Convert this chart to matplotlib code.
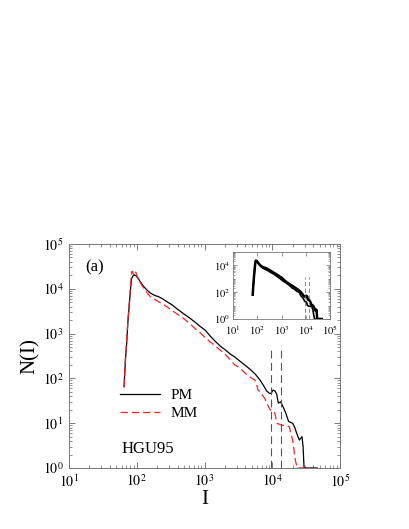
import matplotlib
matplotlib.use("Agg")
import matplotlib.pyplot as plt
import matplotlib.ticker as mticker
import numpy as np

plt.rcParams['font.family'] = ['Liberation Serif', 'DejaVu Serif']
plt.rcParams['mathtext.fontset'] = 'stix'

pm_x = [65, 68, 71, 74, 78, 81, 84, 88, 92, 98, 105, 112, 125, 141, 160, 175, 190, 208, 240, 277,
        330, 400, 487, 600, 725, 860, 1020, 1200, 1430, 1700, 2000, 2400, 2800, 3300, 4000, 4700,
        5600, 6600, 7400, 8300, 9000, 9600, 10300, 11000, 11600, 12300, 13300, 14500, 15800,
        17400, 18500, 20000, 21500, 22900, 25100, 27500, 28500, 29500, 46000]
pm_y = [65, 250, 600, 1800, 4800, 1.0e4, 1.7e4, 1.95e4, 2.05e4, 1.95e4, 1.7e4, 1.45e4, 1.15e4,
        9.4e3, 8.0e3, 7.4e3, 7.0e3, 6.7e3, 6.0e3, 5.2e3, 4.4e3, 3.5e3, 2.8e3, 2.25e3, 1.8e3,
        1.45e3, 1.2e3, 900, 680, 530, 440, 350, 300, 245, 195, 160, 125, 92, 70, 52, 47, 46, 55,
        52, 45, 28, 30, 23, 17, 11, 10.5, 10, 8, 6, 4.2, 5, 3, 1, 1]

mm_x = [65, 68, 71, 74, 78, 81, 84, 87, 90, 94, 97, 100, 107, 115, 126, 141, 160, 175, 208, 240,
        277, 330, 400, 487, 600, 725, 860, 1020, 1200, 1430, 1700, 2000, 2400, 2800, 3300, 4000,
        4700, 5300, 5600, 6200, 7000, 7800, 8600, 9300, 10000, 10800, 11700, 13800, 16000, 17800,
        20000, 21900, 23400, 30000]
mm_y = [65, 280, 700, 2000, 5500, 1.2e4, 2.4e4, 2.45e4, 2.0e4, 2.2e4, 2.35e4, 2.0e4, 1.6e4,
        1.3e4, 1.05e4, 8.3e3, 6.6e3, 6.1e3, 5.2e3, 4.6e3, 4.0e3, 3.3e3, 2.7e3, 2.2e3, 1.7e3,
        1.3e3, 1.05e3, 820, 660, 540, 430, 350, 260, 200, 175, 130, 108, 95, 90, 55, 45, 35, 25,
        20, 19, 18, 10, 9, 8.8, 8.4, 4.2, 1.5, 1, 1]

vlines_x = [9600, 13500]

fig = plt.figure(figsize=(4.09, 5.29), dpi=100)
ax = fig.add_axes([69/409, 1-468/529, 271/409, 224/529])

ax.plot(pm_x, pm_y, color='black', lw=0.9, label='PM')
ax.plot(mm_x, mm_y, color='#ff2020', lw=0.9, ls=(0, (6, 3)), label='MM')
for vx in vlines_x:
    ax.plot([vx, vx], [1, 500], color='#555555', lw=0.8, ls=(0, (7, 4)))

ax.set_xscale('log')
ax.set_yscale('log')
ax.set_xlim(10, 1e5)
ax.set_ylim(1, 1e5)
ax.set_xticks([1e1, 1e2, 1e3, 1e4, 1e5])
ax.set_xticklabels([r'$10^{1}$', r'$10^{2}$', r'$10^{3}$', r'$10^{4}$', r'$10^{5}$'])
ax.set_yticks([1e0, 1e1, 1e2, 1e3, 1e4, 1e5])
ax.set_yticklabels([r'$10^{0}$', r'$10^{1}$', r'$10^{2}$', r'$10^{3}$', r'$10^{4}$', r'$10^{5}$'])
ax.xaxis.set_minor_formatter(mticker.NullFormatter())
ax.yaxis.set_minor_formatter(mticker.NullFormatter())
ax.tick_params(which='both', direction='in', top=True, right=True, colors='#666666',
               labelcolor='black', labelsize=10)
ax.tick_params(which='major', length=4, width=0.6, pad=4)
ax.tick_params(which='minor', length=2, width=0.5)
for s in ax.spines.values():
    s.set_color('#777777')
    s.set_linewidth(0.7)
ax.set_xlabel('I', fontsize=15, labelpad=0)
ax.set_ylabel('N(I)', fontsize=15, labelpad=2)

ax.text(0.059, 0.895, '(a)', transform=ax.transAxes, fontsize=12, va='center', ha='left')
ax.text(0.194, 0.083, 'HGU95', transform=ax.transAxes, fontsize=12, va='center', ha='left')
ax.legend(loc='center left', bbox_to_anchor=(0.16, 0.285), frameon=False, fontsize=11,
          handlelength=2.6, handletextpad=0.7, labelspacing=0.3, borderpad=0)

ins = fig.add_axes([233/409, 1-319/529, 97/409, 67/529])
ins.plot(pm_x, pm_y, color='black', lw=1.8)
ins.plot(mm_x, mm_y, color='black', lw=1.2)
for vx in vlines_x:
    ins.plot([vx, vx], [1, 1300], color='#777777', lw=0.6, ls=(0, (5, 3)))
ins.set_xscale('log')
ins.set_yscale('log')
ins.set_xlim(10, 1e5)
ins.set_ylim(1, 1e5)
ins.set_xticks([1e1, 1e2, 1e3, 1e4, 1e5])
ins.set_xticklabels([r'$10^{1}$', r'$10^{2}$', r'$10^{3}$', r'$10^{4}$', r'$10^{5}$'])
ins.set_yticks([1e0, 1e2, 1e4])
ins.set_yticklabels([r'$10^{0}$', r'$10^{2}$', r'$10^{4}$'])
ins.yaxis.set_minor_locator(mticker.LogLocator(base=10, subs=[1, 2, 3, 4, 5, 6, 7, 8, 9], numticks=20))
ins.xaxis.set_minor_formatter(mticker.NullFormatter())
ins.yaxis.set_minor_formatter(mticker.NullFormatter())
ins.tick_params(which='both', direction='in', top=True, right=True, colors='#666666',
                labelcolor='black', labelsize=7.5)
ins.tick_params(which='major', length=3, width=0.5)
ins.tick_params(axis='x', which='major', pad=3.5)
ins.tick_params(axis='y', which='major', pad=2)
ins.tick_params(which='minor', length=1.5, width=0.4)
for s in ins.spines.values():
    s.set_color('#777777')
    s.set_linewidth(0.6)

fig.savefig('out.png', dpi=100)
